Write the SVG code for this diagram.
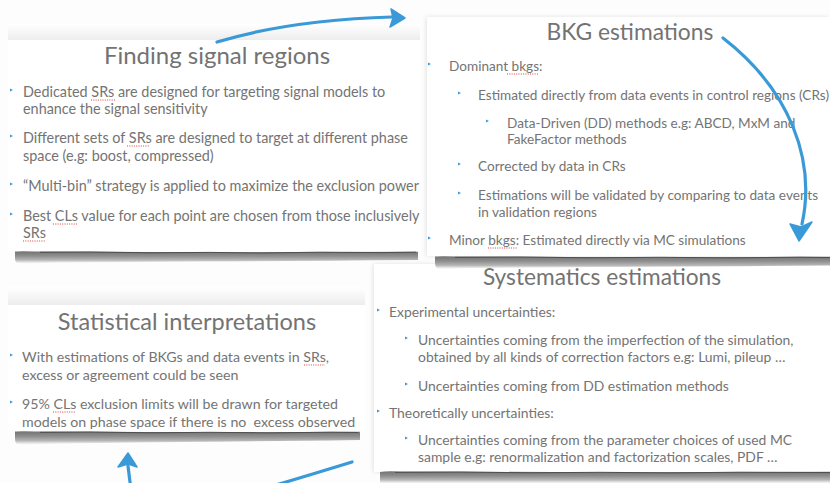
<svg xmlns="http://www.w3.org/2000/svg" width="830" height="483" viewBox="0 0 830 483">
  <defs>
    <style>
      .title { font-family: Lato, "Open Sans", sans-serif; fill: #737373; text-anchor: middle; }
      .body { font-family: Lato, "Open Sans", sans-serif; fill: #747474; white-space: pre; }
      #node-signal-regions .title { font-size: 24px; }
      #node-signal-regions .body { font-size: 14.4px; }
      #node-bkg .title { font-size: 22.8px; }
      #node-bkg .body { font-size: 13.6px; }
      #node-statistics .title { font-size: 23.5px; }
      #node-statistics .body { font-size: 14.2px; }
      #node-systematics .title { font-size: 22.7px; }
      #node-systematics .body { font-size: 13.9px; }
      .card { fill: #ffffff; }
      .bullet { fill: #3a9ad8; }
      .spell { stroke: #e0403a; stroke-width: 1.2; stroke-dasharray: 1 1.3; fill: none; }
      .arrow { fill: none; stroke: #3a9ad8; stroke-width: 3.2; stroke-linecap: round; stroke-linejoin: round; }
      .head { fill: #3a9ad8; stroke: #3a9ad8; stroke-width: 1.5; stroke-linejoin: round; }
      .edge { fill: none; stroke: #4f4f4f; stroke-width: 1; }
    </style>
    <linearGradient id="haze" x1="0" y1="0" x2="0" y2="1">
      <stop offset="0" stop-color="#ffffff"/>
      <stop offset="1" stop-color="#ededed"/>
    </linearGradient>
    <!-- torn paper edge under each card -->
    <linearGradient id="tear" x1="0" y1="0" x2="0" y2="1">
      <stop offset="0" stop-color="#727272"/>
      <stop offset="0.4" stop-color="#8f8f8f"/>
      <stop offset="0.75" stop-color="#b9b9b9"/>
      <stop offset="1" stop-color="#e8e8e8" stop-opacity="0.5"/>
    </linearGradient>
    <filter id="soft" x="-5%" y="-50%" width="110%" height="200%">
      <feGaussianBlur stdDeviation="0.7"/>
    </filter>
    <filter id="lift" x="-5%" y="-5%" width="110%" height="110%">
      <feDropShadow dx="-1" dy="0" stdDeviation="2" flood-color="#000" flood-opacity="0.1"/>
    </filter>
    <path id="tick" d="M0,-1.6 L3,0 L0,1.6 Z"/>
  </defs>

  <rect width="830" height="483" fill="#fdfdfd"/>

  <!-- Finding signal regions -->
  <g id="node-signal-regions">
    <rect x="8" y="24" width="412" height="16" fill="url(#haze)"/>
    <rect class="card" x="8" y="40" width="412" height="211"/>
    <path d="M15,251.5 Q20,251 40,251.5 L200,252.3 L418,251.8 L418,260 Q300,261 200,261.5 L60,262.5 Q30,263.5 17,263 Q15,262 15,258 Z" fill="url(#tear)" filter="url(#soft)"/>
    <path class="edge" d="M40,252.3 L90,252 L150,252.8 L210,252.4 L260,253 L320,252.2 L380,252.6 L416,252.2"/>
    <text class="title" x="217" y="64">Finding signal regions</text>
    <use href="#tick" class="bullet" x="10" y="90"/>
    <use href="#tick" class="bullet" x="10" y="136"/>
    <use href="#tick" class="bullet" x="10" y="184"/>
    <use href="#tick" class="bullet" x="10" y="214"/>
    <text class="body" x="23" y="97">Dedicated SRs are designed for targeting signal models to</text>
    <text class="body" x="23" y="114">enhance the signal sensitivity</text>
    <text class="body" x="23" y="143">Different sets of SRs are designed to target at different phase</text>
    <text class="body" x="23" y="161">space (e.g: boost, compressed)</text>
    <text class="body" x="23" y="191">“Multi-bin” strategy is applied to maximize the exclusion power</text>
    <text class="body" x="23" y="221">Best CLs value for each point are chosen from those inclusively</text>
    <text class="body" x="23" y="238">SRs</text>
    <path class="spell" d="M91,100 H115 M127,146 H149 M53,224 H77 M23,241 H46"/>
  </g>

  <!-- Statistical interpretations -->
  <g id="node-statistics">
    <rect x="8" y="287" width="357" height="18" fill="url(#haze)"/>
    <rect class="card" x="8" y="305" width="357" height="127"/>
    <path d="M15,431.5 Q20,431 40,431.5 L200,432.3 L360,431.8 L360,440 Q250,441.5 180,442 L60,443.5 Q30,444.5 17,444 Q15,443 15,438 Z" fill="url(#tear)" filter="url(#soft)"/>
    <path class="edge" d="M40,432.4 L90,432 L150,432.8 L210,432.3 L270,432.9 L330,432.2 L358,432.5"/>
    <text class="title" x="187" y="330">Statistical interpretations</text>
    <use href="#tick" class="bullet" x="10" y="355"/>
    <use href="#tick" class="bullet" x="10" y="402"/>
    <text class="body" x="22" y="362">With estimations of BKGs and data events in SRs,</text>
    <text class="body" x="22" y="380">excess or agreement could be seen</text>
    <text class="body" x="22" y="409">95% CLs exclusion limits will be drawn for targeted</text>
    <text class="body" x="22" y="427">models on phase space if there is no  excess observed</text>
    <path class="spell" d="M304,365 H325 M53,412 H76"/>
  </g>

  <!-- Systematics estimations -->
  <g id="node-systematics">
    <rect class="card" x="374" y="264" width="456" height="208" filter="url(#lift)"/>
    <path d="M380,472 Q385,471 400,471.5 L600,472.2 L830,471.8 L830,483 L380,483 Z" fill="url(#tear)" filter="url(#soft)"/>
    <path class="edge" d="M395,472.4 L460,472 L530,472.8 L600,472.3 L670,472.9 L740,472.2 L830,472.6"/>
    <text class="title" x="602" y="285">Systematics estimations</text>
    <use href="#tick" class="bullet" x="377" y="310"/>
    <use href="#tick" class="bullet" x="405" y="338"/>
    <use href="#tick" class="bullet" x="405" y="384"/>
    <use href="#tick" class="bullet" x="377" y="411"/>
    <use href="#tick" class="bullet" x="405" y="438"/>
    <text class="body" x="389" y="317">Experimental uncertainties:</text>
    <text class="body" x="418" y="345">Uncertainties coming from the imperfection of the simulation,</text>
    <text class="body" x="418" y="362">obtained by all kinds of correction factors e.g: Lumi, pileup …</text>
    <text class="body" x="418" y="391">Uncertainties coming from DD estimation methods</text>
    <text class="body" x="389" y="418">Theoretically uncertainties:</text>
    <text class="body" x="418" y="445">Uncertainties coming from the parameter choices of used MC</text>
    <text class="body" x="418" y="462">sample e.g: renormalization and factorization scales, PDF …</text>
  </g>

  <!-- BKG estimations -->
  <g id="node-bkg">
    <rect class="card" x="427" y="17" width="403" height="239" filter="url(#lift)"/>
    <path d="M435,256.5 Q440,256 460,256.5 L640,257.3 L830,256.8 L830,265.5 Q700,266.5 600,267 L470,268 Q445,269 437,268.5 Q435,267 435,263 Z" fill="url(#tear)" filter="url(#soft)"/>
    <path class="edge" d="M455,257.4 L520,257 L590,257.8 L660,257.3 L730,257.9 L800,257.2 L830,257.6"/>
    <text class="title" x="630" y="40">BKG estimations</text>
    <use href="#tick" class="bullet" x="428" y="64"/>
    <use href="#tick" class="bullet" x="458" y="93"/>
    <use href="#tick" class="bullet" x="486" y="121"/>
    <use href="#tick" class="bullet" x="458" y="164"/>
    <use href="#tick" class="bullet" x="458" y="193"/>
    <use href="#tick" class="bullet" x="428" y="238"/>
    <text class="body" x="449" y="71">Dominant bkgs:</text>
    <text class="body" x="478" y="100">Estimated directly from data events in control regions (CRs)</text>
    <text class="body" x="507" y="128">Data-Driven (DD) methods e.g: ABCD, MxM and</text>
    <text class="body" x="507" y="144">FakeFactor methods</text>
    <text class="body" x="478" y="171">Corrected by data in CRs</text>
    <text class="body" x="478" y="200">Estimations will be validated by comparing to data events</text>
    <text class="body" x="478" y="217">in validation regions</text>
    <text class="body" x="449" y="245">Minor bkgs: Estimated directly via MC simulations</text>
    <path class="spell" d="M507,74 H538 M488,248 H517"/>
  </g>

  <!-- Connectors -->
  <g id="connectors">
    <path class="arrow" d="M217,42 Q290,20 392,17"/>
    <path class="head" d="M405,18 L391,9 L393,18 L390,27 Z"/>
    <path class="arrow" d="M723,38 C790,90 816,160 802,224"/>
    <path class="head" d="M799,241 L790,224 L801,227 L812,222 Z"/>
    <path class="arrow" d="M352,462 C300,478 260,490 240,495"/>
    <path class="arrow" d="M131,490 L128,466"/>
    <path class="head" d="M128,453 L118,467 L128,464 L137,467 Z"/>
  </g>
</svg>
